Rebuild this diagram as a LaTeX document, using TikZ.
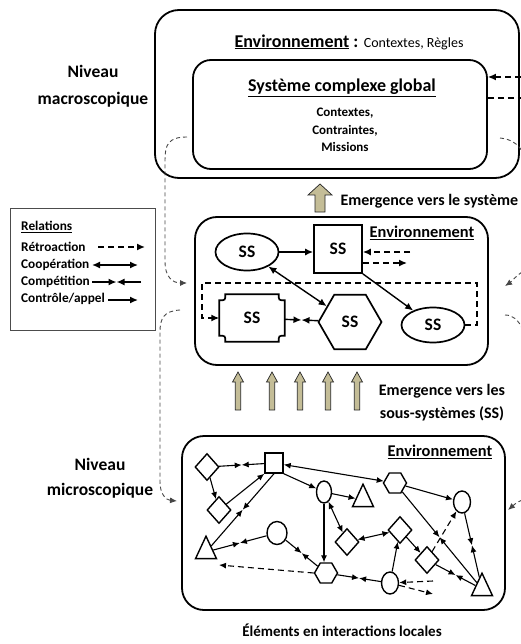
\documentclass[tikz,border=0pt]{standalone}
\usepackage{fontspec}
\setmainfont{Carlito}
\usetikzlibrary{arrows.meta,shapes.geometric,decorations.markings,calc}
\definecolor{emfill}{RGB}{196,189,151}
\definecolor{guidegray}{RGB}{70,70,70}

% upward block arrow: x, y of tip, y of base, half shaft, half head, head height
\newcommand\upblock[6]{%
  \filldraw[fill=emfill,draw=black!85,line width=0.7pt]
    (#1-#4,#3) -- (#1-#4,#2+#6) -- (#1-#5,#2+#6) -- (#1,#2)
    -- (#1+#5,#2+#6) -- (#1+#4,#2+#6) -- (#1+#4,#3) -- cycle;}
% competition: two control arrows meeting tip to tip halfway between two nodes
\newcommand\compete[2]{%
  \path[decorate,decoration={markings,mark=at position 0.5 with {\coordinate (cmid);}}] (#1) -- (#2);
  \draw[ctrl] (#1) -- (cmid);
  \draw[ctrl] (#2) -- (cmid);}

\begin{document}
\begin{tikzpicture}[x=1pt,y=-1pt,font=\bfseries,
  >={Latex[length=8pt,width=7pt]},
  conn/.style={line width=1.4pt},
  ctrl/.style={conn,->},
  coop/.style={conn,<->},
  retro/.style={conn,->,dash pattern=on 6pt off 4pt},
  guide/.style={line width=0.9pt,draw=guidegray,dash pattern=on 4pt off 3pt,
    -{Latex[length=7pt,width=6pt]}},
  panel/.style={draw,line width=1.8pt,rounded corners=22pt,inner sep=0pt},
  ss/.style={draw,line width=1.7pt,inner sep=0pt,font=\fontsize{17.5}{19}\selectfont\bfseries},
  elem/.style={draw,line width=1.4pt,inner sep=0pt},
  dia/.style={elem,diamond,minimum width=24pt,minimum height=27pt},
  circ/.style={elem,ellipse,minimum width=17pt,minimum height=22pt},
  hexa/.style={elem,regular polygon,regular polygon sides=6,minimum size=23pt},
  tri/.style={elem,isosceles triangle,isosceles triangle apex angle=50,shape border rotate=90,
    minimum width=21pt,minimum height=21pt},
  sq/.style={elem,rectangle,minimum width=18pt,minimum height=20pt},
  lgtext/.style={anchor=west,font=\fontsize{13.3}{15}\selectfont\bfseries,inner sep=0pt}]

\useasboundingbox (0,0) rectangle (521,644);

% ---------- panels ----------
\node[panel,rounded corners=24pt,minimum width=364pt,minimum height=168pt] (Top) at (337,94) {};
\node[panel,rounded corners=18pt,minimum width=294pt,minimum height=109pt] (Sys) at (340,114.5) {};
\node[panel,minimum width=293pt,minimum height=148pt] (Mid) at (341.5,291) {};
\node[panel,minimum width=323pt,minimum height=174pt] (Bot) at (343.5,523) {};

% ---------- macroscopic level ----------
\node[font=\fontsize{18}{22}\selectfont\bfseries] (envtop) at (349,42)
  {\underline{Environnement} : \mdseries\fontsize{14}{17}\selectfont Contextes, Règles};
\node[font=\fontsize{18}{22}\selectfont\bfseries] (systitle) at (342,88) {\underline{Système complexe global}};
\node[align=center,font=\fontsize{13}{17.5}\selectfont\bfseries] (sysdesc) at (345,130)
  {Contextes,\\Contraintes,\\Missions};

\node[align=center,font=\fontsize{17.5}{27}\selectfont\bfseries] (macro) at (93,86) {Niveau\\macroscopique};
\node[align=center,font=\fontsize{17.5}{25}\selectfont\bfseries] (micro) at (100,478) {Niveau\\microscopique};

% ---------- emergence arrows ----------
\upblock{320}{184}{212}{5}{12}{11}
\node[anchor=west,font=\fontsize{16}{19}\selectfont\bfseries] (emsys) at (337,201) {Emergence vers le système};
\foreach \x in {238,272,300,328,357} {\upblock{\x}{372}{410}{2.7}{5.5}{10}}
\node[align=center,font=\fontsize{16}{23}\selectfont\bfseries] (emss) at (442,403)
  {Emergence vers les\\sous-systèmes (SS)};

% ---------- legend ----------
\node[draw=black!70,line width=0.8pt,minimum width=145pt,minimum height=122pt,inner sep=0pt] (Leg) at (82.5,269) {};
\node[lgtext] (lgT) at (21,227) {\underline{Relations}};
\node[lgtext] (lgR) at (21,247) {Rétroaction};
\node[lgtext] (lgC) at (21,265) {Coopération};
\node[lgtext] (lgK) at (21,282) {Compétition};
\node[lgtext] (lgA) at (21,299) {Contrôle/appel};
\coordinate (lr1) at (98,247);  \coordinate (lr2) at (145,247);
\coordinate (lc1) at (92,265);  \coordinate (lc2) at (138,265);
\coordinate (lk1) at (92,282);  \coordinate (lk2) at (141,282);
\coordinate (la1) at (108,300); \coordinate (la2) at (138,300);
\draw[retro] (lr1) -- (lr2);
\draw[coop] (lc1) -- (lc2);
\compete{lk1}{lk2}
\draw[ctrl] (la1) -- (la2);

% ---------- sub-systems ----------
\node[font=\fontsize{16.4}{19}\selectfont\bfseries] (envmid) at (422,233) {\underline{Environnement}};
\node[ss,ellipse,minimum width=63pt,minimum height=37pt] (E1) at (247,252) {SS};
\node[ss,rectangle,minimum size=48pt] (Q1) at (338,249) {SS};
\node[inner sep=0pt,minimum width=65pt,minimum height=47pt,font=\fontsize{17.5}{19}\selectfont\bfseries] (P1) at (252,318) {SS};
\draw[line width=1.7pt]
  ([xshift=6pt]P1.north west) -- ([xshift=-6pt]P1.north east)
  .. controls ([shift={(-6pt,-6pt)}]P1.north east) .. ([yshift=-6pt]P1.north east)
  -- ([yshift=6pt]P1.south east)
  .. controls ([shift={(-6pt,6pt)}]P1.south east) .. ([xshift=-6pt]P1.south east)
  -- ([xshift=6pt]P1.south west)
  .. controls ([shift={(6pt,6pt)}]P1.south west) .. ([yshift=6pt]P1.south west)
  -- ([yshift=-6pt]P1.north west)
  .. controls ([shift={(6pt,-6pt)}]P1.north west) .. ([xshift=6pt]P1.north west) -- cycle;
\node[ss,regular polygon,regular polygon sides=6,minimum size=63pt] (H) at (350,322) {SS};
\node[ss,ellipse,minimum width=63pt,minimum height=35pt] (E2) at (433,325) {SS};

\draw[ctrl] (E1.east) -- (E1.east -| Q1.west);
\draw[coop] (E1) -- (H);
\draw[ctrl] (Q1.south east) -- (E2);
\coordinate (q1in) at (410,252);
\coordinate (q1out) at (407,263);
\draw[retro] (q1in) -- (q1in -| Q1.east);
\draw[retro] (q1out -| Q1.east) -- (q1out);
\compete{P1}{H}
\coordinate (dr1) at (477,283);
\coordinate (dr2) at (202,283);
\draw[retro] (E2.east) -| (dr1) -- (dr2) |- (P1.west);

% ---------- elements in local interaction ----------
\node[font=\fontsize{16.4}{19}\selectfont\bfseries] (envbot) at (440,452) {\underline{Environnement}};
\node[dia]  (D1)  at (207,467) {};
\node[sq]   (Sq1) at (274,463) {};
\node[dia]  (D2)  at (219,510) {};
\node[tri]  (T1)  at (206,552) {};
\node[circ,minimum width=20pt,minimum height=23pt] (C1) at (277,533) {};
\node[circ,minimum width=15pt] (C2) at (324,492) {};
\node[hexa] (H2)  at (326,573) {};
\node[tri]  (T2)  at (363,500) {};
\node[hexa] (H1)  at (395,483) {};
\node[circ] (C3)  at (462,502) {};
\node[dia]  (D3)  at (347,542) {};
\node[dia]  (D4)  at (400,530) {};
\node[dia]  (D5)  at (427,560) {};
\node[circ] (C4)  at (390,583) {};
\node[tri]  (T3)  at (482,589) {};

\begin{scope}[>={Latex[length=7pt,width=6pt]},conn/.style={line width=1.1pt}]
\compete{D1}{Sq1}
\draw[coop] (Sq1) -- (H1);
\draw[ctrl] (D1) -- (D2);
\draw[ctrl] (D2) -- (Sq1.south west);
\compete{Sq1.south}{T1}
\compete{T1}{C1}
\compete{C1}{H2}
\coordinate (t1r) at (219,565);
\draw[retro] (H2.west) -- (t1r);
\draw[ctrl] (C2.south) -- (C2.south |- H2.north);
\draw[ctrl] (Sq1.south east) -- (C2);
\draw[ctrl] (C2) -- (T2);
\draw[coop] (C2) -- (D3);
\compete{H2}{C4}
\draw[ctrl] (H1) -- (C3);
\compete{H1}{T3}
\compete{C3}{T3}
\draw[retro] (D5) -- (C3);
\draw[coop] (D3) -- (D4);
\draw[ctrl] (D4) -- (D5);
\draw[ctrl] (C4) -- (D4);
\compete{D5}{T3}
\coordinate (c4in) at (433,581);
\coordinate (c4out) at (433,594);
\draw[retro] (c4in) -- (C4);
\draw[retro] (C4) -- (c4out);
\end{scope}

\node[font=\fontsize{15}{18}\selectfont\bfseries] (elems) at (342,630) {Éléments en interactions locales};

% ---------- feedback guides on the margins ----------
\coordinate (g1a) at (187,137);
\coordinate (g1b) at (187,283);
\draw[guide] (g1a) .. controls (168,137) and (165,145) .. (165,160) -- (165,262)
  .. controls (165,276) and (172,283) .. (g1b);
\coordinate (g2a) at (180,310);
\coordinate (g2b) at (177,501);
\draw[guide] (g2a) .. controls (164,311) and (160,318) .. (160,332) -- (160,482)
  .. controls (160,494) and (166,500) .. (g2b);

\coordinate (rA) at (521,77);
\coordinate (rB) at (521,98);
\draw[retro] (rA) -- (rA -| Sys.east);
\draw[conn,dash pattern=on 6pt off 4pt] (rB -| Sys.east) -- (rB);
\coordinate (rT1) at (500,138);
\coordinate (rT2) at (522,151);
\draw[guide,-] (rT1) .. controls (510,139) and (517,143) .. (rT2);
\coordinate (rC) at (522,272);
\coordinate (rCe) at (505,286);
\draw[guide] (rC) .. controls (516,276) and (511,282) .. (rCe);
\coordinate (rM1) at (505,315);
\coordinate (rM2) at (522,328);
\draw[guide,-] (rM1) .. controls (513,315) and (518,320) .. (rM2);
\coordinate (rD) at (522,500);
\coordinate (rDe) at (508,510);
\draw[guide] (rD) .. controls (516,503) .. (rDe);

\end{tikzpicture}
\end{document}
